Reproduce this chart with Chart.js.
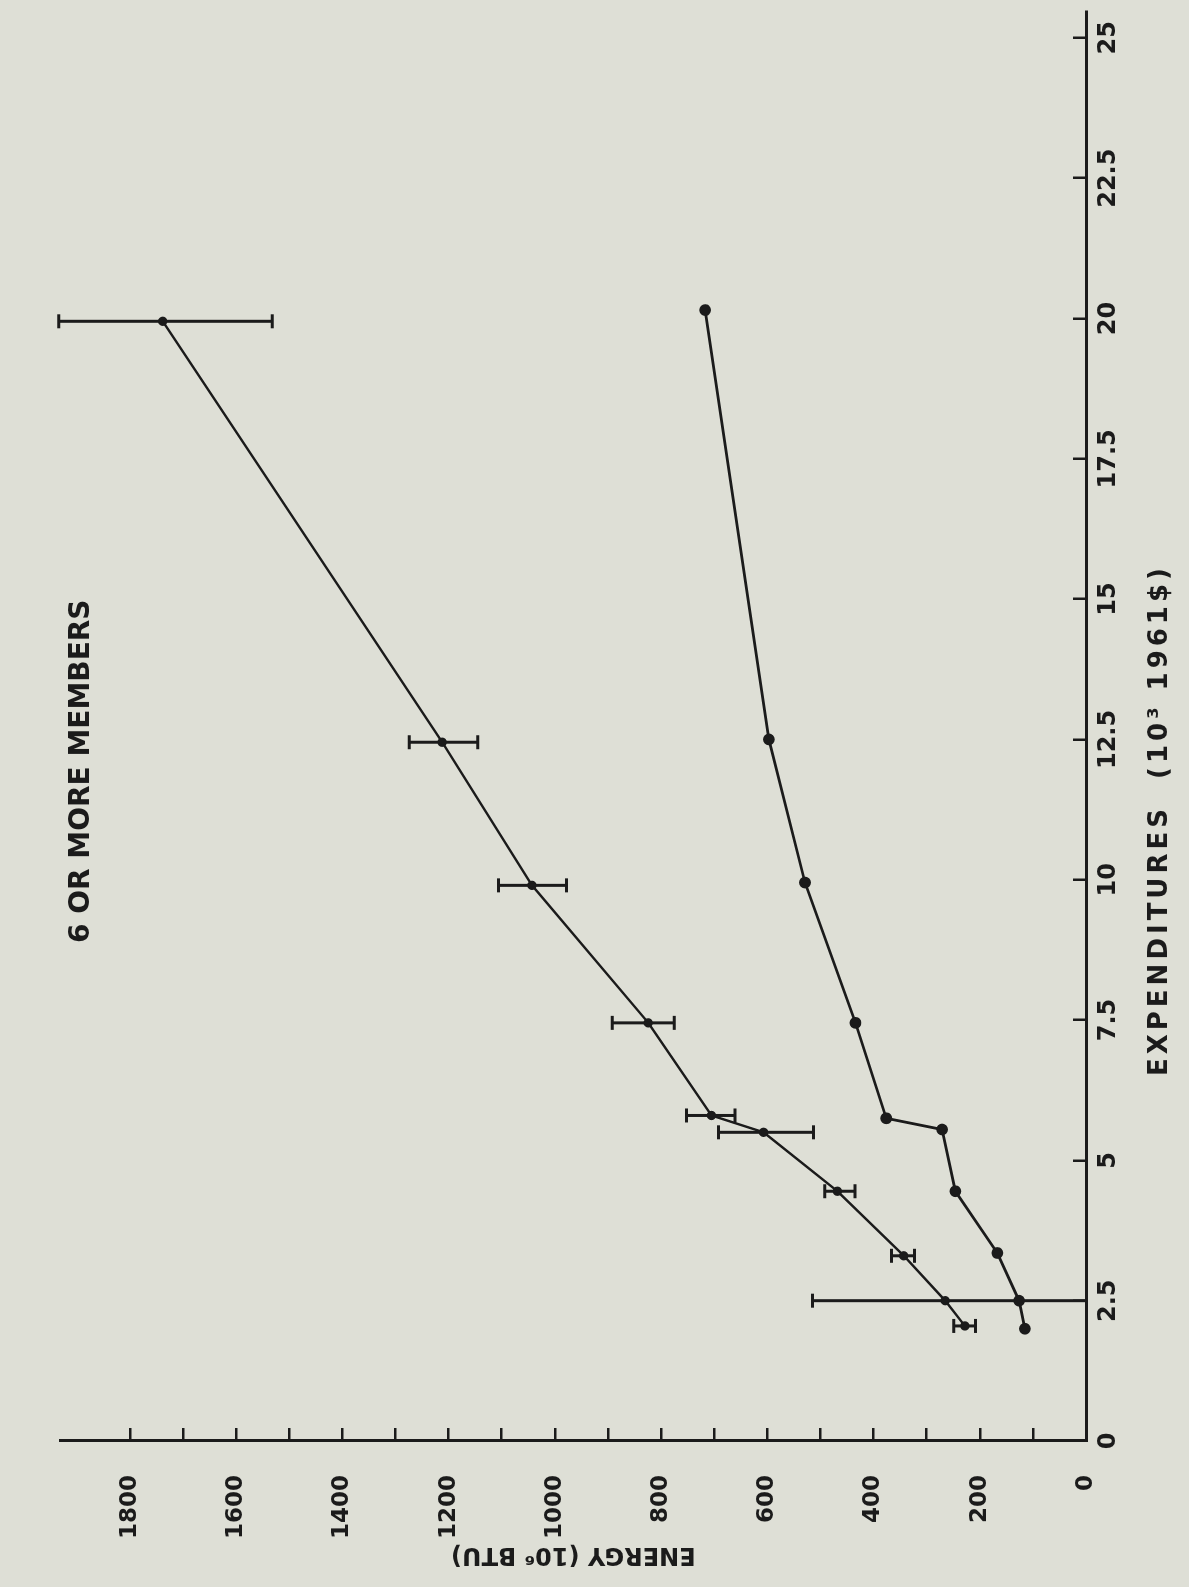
<!DOCTYPE html>
<html>
<head>
<meta charset="utf-8">
<title>Energy vs expenditures - 6 or more members</title>
<script src="https://cdn.jsdelivr.net/npm/chart.js@4.4.1/dist/chart.umd.min.js"></script>
<style>
    html, body { margin: 0; padding: 0; background: #dedfd6; }
    body { width: 1189px; height: 1587px; overflow: hidden; position: relative; }
    /* the page is the chart turned a quarter turn counter-clockwise */
    #wrap {
        position: absolute; left: 0; top: 0;
        width: 1587px; height: 1189px;
        transform-origin: 0 0;
        transform: translate(0, 1587px) rotate(-90deg);
    }
</style>
</head>
<body>
<div id="wrap"><canvas id="energyChart" width="1587" height="1189"></canvas></div>
<script>
// expenditures (10^3 1961$) and energy (10^6 BTU)
const upperExp = [2.05, 2.5, 3.3, 4.45, 5.5, 5.8, 7.45, 9.9, 12.45, 19.95];
const upperEnergy = [228, 265, 343, 468, 607, 705, 824, 1043, 1212, 1738];
const upperLow = [208, 0, 323, 435, 513, 661, 775, 978, 1145, 1532];
const upperHigh = [249, 515, 366, 492, 692, 752, 892, 1106, 1274, 1934];

const lowerExp = [2.0, 2.5, 3.35, 4.45, 5.55, 5.75, 7.45, 9.95, 12.5, 20.15];
const lowerEnergy = [115, 126, 167, 246, 271, 376, 434, 529, 597, 717];

const expTicks = [0, 2.5, 5, 7.5, 10, 12.5, 15, 17.5, 20, 22.5, 25];
const energyTicks = [0, 100, 200, 300, 400, 500, 600, 700, 800, 900, 1000, 1100, 1200, 1300, 1400, 1500, 1600, 1700, 1800];
const energyLabels = [0, 200, 400, 600, 800, 1000, 1200, 1400, 1600, 1800];

const ink = "#1b1b1b";
const fontFamily = '"DejaVu Sans", "Liberation Sans", sans-serif';

function toPoints(xs, ys) {
    return xs.map((x, i) => ({ x: x, y: ys[i] }));
}

const errorBars = {
    id: "errorBars",
    afterDatasetsDraw(chart) {
        const ctx = chart.ctx;
        const xScale = chart.scales.x;
        const yScale = chart.scales.y;
        ctx.save();
        ctx.strokeStyle = ink;
        ctx.lineWidth = 3;
        ctx.lineCap = "butt";
        upperExp.forEach((v, i) => {
            const px = xScale.getPixelForValue(v);
            const top = yScale.getPixelForValue(upperHigh[i]);
            const bottom = yScale.getPixelForValue(upperLow[i]);
            ctx.beginPath();
            ctx.moveTo(px, top);
            ctx.lineTo(px, bottom);
            ctx.moveTo(px - 7, top);
            ctx.lineTo(px + 7, top);
            if (upperLow[i] > 0) {
                ctx.moveTo(px - 7, bottom);
                ctx.lineTo(px + 7, bottom);
            }
            ctx.stroke();
        });
        ctx.restore();
    }
};

const captions = {
    id: "captions",
    afterDraw(chart) {
        const ctx = chart.ctx;
        ctx.save();
        ctx.fillStyle = ink;
        ctx.textAlign = "left";
        ctx.textBaseline = "middle";
        ctx.font = "bold 28px " + fontFamily;
        ctx.fillText("6 OR MORE MEMBERS", 644, 82);
        ctx.font = "bold 26px " + fontFamily;
        ctx.letterSpacing = "4px";
        ctx.fillText("EXPENDITURES  (10\u00b3 1961$)", 511, 1160);
        ctx.restore();
    }
};

const ctx = document.getElementById("energyChart");
new Chart(ctx, {
    type: "scatter",
    data: {
        datasets: [
            {
                label: "upper",
                data: toPoints(upperExp, upperEnergy),
                showLine: true,
                borderColor: ink,
                borderWidth: 2.4,
                pointRadius: 3.5,
                pointBackgroundColor: ink,
                pointBorderColor: ink
            },
            {
                label: "lower",
                data: toPoints(lowerExp, lowerEnergy),
                showLine: true,
                borderColor: ink,
                borderWidth: 2.8,
                pointRadius: 4.5,
                pointBackgroundColor: ink,
                pointBorderColor: ink
            }
        ]
    },
    options: {
        responsive: false,
        animation: false,
        layout: { padding: { left: 10, right: 9, top: 10, bottom: 10 } },
        plugins: {
            legend: { display: false },
            tooltip: { enabled: false }
        },
        scales: {
            x: {
                type: "linear",
                position: "bottom",
                min: 0,
                max: 25.46,
                afterBuildTicks: (scale) => { scale.ticks = expTicks.map(v => ({ value: v })); },
                afterFit: (scale) => { scale.height = 93; },
                border: { display: true, color: ink, width: 3 },
                grid: { drawOnChartArea: false, drawTicks: true, tickLength: -13, color: ink, lineWidth: 2.5 },
                ticks: {
                    autoSkip: false,
                    maxRotation: 0,
                    padding: 21,
                    color: ink,
                    font: { family: fontFamily, size: 24, weight: "bold" },
                    callback: (value) => String(value)
                }
            },
            y: {
                type: "linear",
                position: "left",
                min: 0,
                max: 1930,
                afterBuildTicks: (scale) => { scale.ticks = energyTicks.map(v => ({ value: v })); },
                afterFit: (scale) => { scale.width = 136; },
                border: { display: true, color: ink, width: 3 },
                grid: { drawOnChartArea: false, drawTicks: true, tickLength: -13, color: ink, lineWidth: 2.5 },
                ticks: {
                    autoSkip: false,
                    padding: 47,
                    color: ink,
                    font: { family: fontFamily, size: 23, weight: "bold" },
                    callback: (value) => energyLabels.includes(value) ? String(value) : ""
                },
                title: {
                    display: true,
                    text: "ENERGY (10\u2076 BTU)",
                    color: ink,
                    padding: { top: 8, bottom: 0 },
                    font: { family: fontFamily, size: 24, weight: "bold" }
                }
            }
        }
    },
    plugins: [errorBars, captions]
});
</script>
</body>
</html>
